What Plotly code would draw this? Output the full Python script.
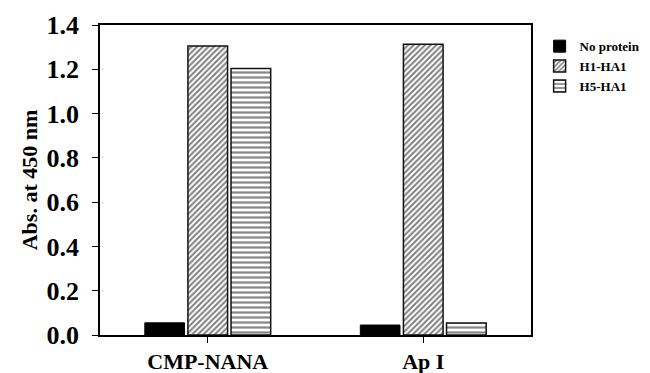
import plotly.graph_objects as go

categories = ["CMP-NANA", "Ap I"]
no_protein = [0.055, 0.045]
h1_ha1 = [1.305, 1.313]
h5_ha1 = [1.203, 0.054]
y_ticks = [0.0, 0.2, 0.4, 0.6, 0.8, 1.0, 1.2, 1.4]
y_tick_labels = ["0.0", "0.2", "0.4", "0.6", "0.8", "1.0", "1.2", "1.4"]

FONT = "Liberation Serif"

fig = go.Figure()
fig.add_trace(go.Bar(
    x=categories, y=no_protein, name="<b>No protein</b>",
    marker=dict(color="black", line=dict(color="black", width=1)),
))
fig.add_trace(go.Bar(
    x=categories, y=h1_ha1, name="<b>H1-HA1</b>",
    marker=dict(color="white", line=dict(color="#111", width=1.5),
                pattern=dict(shape="/", size=4, solidity=0.5,
                             fgcolor="black", bgcolor="white")),
))
fig.add_trace(go.Bar(
    x=categories, y=h5_ha1, name="<b>H5-HA1</b>",
    marker=dict(color="white", line=dict(color="#111", width=1.5),
                pattern=dict(shape="-", size=5, solidity=0.45,
                             fgcolor="#111", bgcolor="white")),
))

fig.update_layout(
    width=650, height=373,
    margin=dict(l=100, r=119, t=25, b=38, autoexpand=False),
    paper_bgcolor="white", plot_bgcolor="white",
    barmode="group", bargap=0.4, bargroupgap=0.08,
    font=dict(family=FONT, color="black"),
    showlegend=True,
    legend=dict(x=1.02, y=0.98, xanchor="left", yanchor="top",
                font=dict(family=FONT, size=13, color="black"),
                bgcolor="rgba(0,0,0,0)", tracegroupgap=0, itemwidth=30),
    xaxis=dict(
        automargin=False,
        showline=True, linecolor="black", linewidth=1.5, mirror=True,
        ticks="outside", ticklen=6, tickwidth=1, tickcolor="black",
        tickfont=dict(family=FONT, size=22, color="black"),
        tickvals=categories, ticktext=["<b>" + c + "</b>" for c in categories],
        range=[-0.5, 1.5], showgrid=False, zeroline=False,
    ),
    yaxis=dict(
        automargin=False,
        title=dict(text="<b>Abs. at 450 nm</b>", font=dict(family=FONT, size=22, color="black"), standoff=3),
        range=[0, 1.4], tickvals=y_ticks,
        ticktext=["<b>" + t + "</b>" for t in y_tick_labels],
        showline=True, linecolor="black", linewidth=1.5, mirror=True,
        ticks="outside", ticklen=6, tickwidth=1, tickcolor="black",
        tickfont=dict(family=FONT, size=26, color="black"),
        ticklabelstandoff=8,
        showgrid=False, zeroline=False,
    ),
)

fig.write_html("out.html")
